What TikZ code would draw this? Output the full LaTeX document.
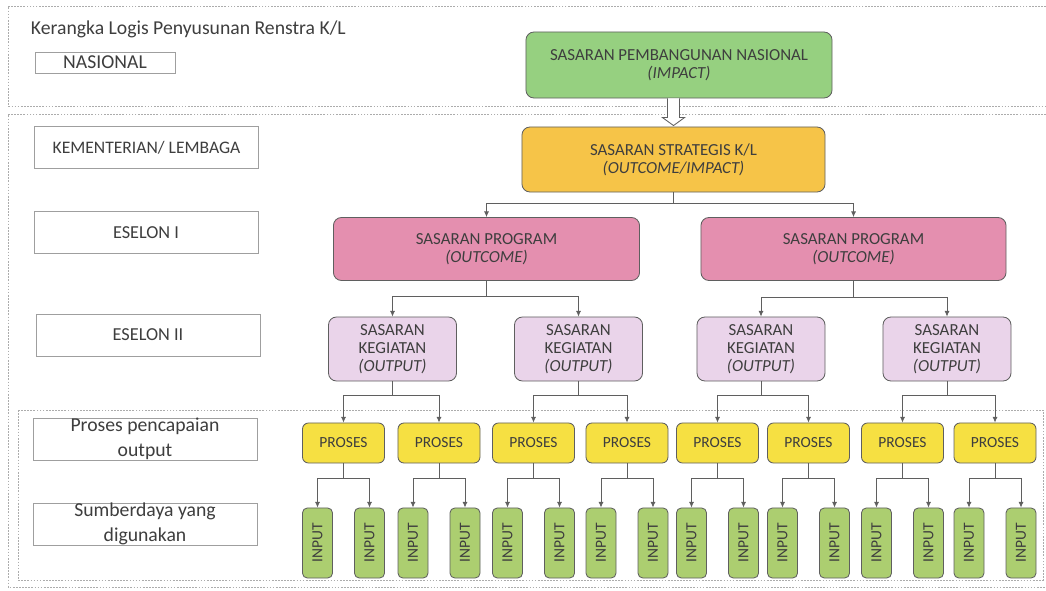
\documentclass[tikz,border=0pt]{standalone}
\usepackage{fontspec,graphicx}
\setmainfont{Carlito}
\usetikzlibrary{arrows.meta,calc,positioning}
\definecolor{natgreen}{RGB}{150,208,128}
\definecolor{klgold}{RGB}{246,196,72}
\definecolor{progpink}{RGB}{228,143,175}
\definecolor{kegviolet}{RGB}{234,212,234}
\definecolor{prosyellow}{RGB}{246,224,66}
\definecolor{inpgreen}{RGB}{172,206,112}
\definecolor{edge}{RGB}{95,95,95}
\definecolor{ink}{RGB}{62,62,62}

\begin{document}
\begin{tikzpicture}[x=0.025cm,y=-0.025cm,>={Latex[length=4pt,width=3.6pt]},
  region/.style={draw=gray!65,dash pattern=on 1.2pt off 1pt,line width=0.5pt},
  lvl/.style={draw=gray!75,fill=white,text=ink,minimum width=5.6cm,minimum height=1.05cm,inner sep=0pt,align=center},
  box/.style={draw=edge,line width=0.6pt,rounded corners=0.2cm,text=ink,align=center,inner sep=0pt,font=\fontsize{12}{12.8}\selectfont},
  prosbox/.style={box,fill=prosyellow,rounded corners=0.15cm,minimum width=2.05cm,minimum height=1cm,font=\fontsize{11}{12}\selectfont},
  inbox/.style={box,fill=inpgreen,rounded corners=0.12cm,minimum width=0.75cm,minimum height=1.75cm,font=\fontsize{11}{12}\selectfont},
  conn/.style={->,draw=edge,line width=0.6pt}]
\useasboundingbox (0,0) rectangle (1046,591);

% dotted areas
\draw[region] (1046,6) -- (8,6) -- (8,106) -- (1046,106);
\draw[region] (1046,114) -- (8,114) -- (8,587) -- (1046,587);
\draw[region] (18,410) rectangle (1043,580);

% levels on the left
\node[anchor=west,text=ink,font=\fontsize{14}{16}\selectfont] (title) at (26,29) {Kerangka Logis Penyusunan Renstra K/L};
\node[lvl,minimum width=3.5cm,minimum height=0.525cm,font=\fontsize{14}{16}\selectfont] (lnas) at (105,62.5) {NASIONAL};
\node[lvl,font=\fontsize{12.5}{15}\selectfont] (lkl) at (146.5,147.5) {KEMENTERIAN/ LEMBAGA};
\node[lvl,font=\fontsize{13}{15}\selectfont] (les1) at (146,232.5) {ESELON I};
\node[lvl,font=\fontsize{13}{15}\selectfont] (les2) at (148,335) {ESELON II};
\node[lvl,font=\fontsize{14}{17.7}\selectfont] (lpro) at (145,439) {Proses pencapaian\\output};
\node[lvl,font=\fontsize{14}{17.7}\selectfont] (lsum) at (145,524) {Sumberdaya yang\\digunakan};

% targets
\node[box,fill=natgreen,minimum width=7.65cm,minimum height=1.65cm] (nat) at (679,65) {SASARAN PEMBANGUNAN NASIONAL\\\textit{(IMPACT)}};
\node[box,fill=klgold,minimum width=7.575cm,minimum height=1.625cm] (kl) at (673.5,159.5) {SASARAN STRATEGIS K/L\\\textit{(OUTCOME/IMPACT)}};
\node[box,fill=progpink,minimum width=7.65cm,minimum height=1.575cm] (prog1) at (486.5,249) {SASARAN PROGRAM\\\textit{(OUTCOME)}};
\node[box,fill=progpink,minimum width=7.625cm,minimum height=1.575cm] (prog2) at (853.5,249) {SASARAN PROGRAM\\\textit{(OUTCOME)}};
\node[box,fill=kegviolet,minimum width=3.2cm,minimum height=1.6cm] (keg1) at (392.5,349) {SASARAN\\KEGIATAN\\\textit{(OUTPUT)}};
\node[box,fill=kegviolet,minimum width=3.2cm,minimum height=1.6cm] (keg2) at (578.5,349) {SASARAN\\KEGIATAN\\\textit{(OUTPUT)}};
\node[box,fill=kegviolet,minimum width=3.2cm,minimum height=1.6cm] (keg3) at (761,349) {SASARAN\\KEGIATAN\\\textit{(OUTPUT)}};
\node[box,fill=kegviolet,minimum width=3.2cm,minimum height=1.6cm] (keg4) at (947,349) {SASARAN\\KEGIATAN\\\textit{(OUTPUT)}};

% hollow arrow national -> K/L
\draw[edge,line width=0.6pt,fill=white] ($(kl.north |- nat.south)+(-6,0)$) -- ($(kl.north)+(-6,-9)$) -- ($(kl.north)+(-11,-9)$)
  -- ($(kl.north)+(0,-1)$) -- ($(kl.north)+(11,-9)$) -- ($(kl.north)+(6,-9)$) -- ($(kl.north |- nat.south)+(6,0)$);

\draw[conn] (kl.south) -- ++(0,11) -| (prog1.north);
\draw[conn] (kl.south) -- ++(0,11) -| (prog2.north);
\draw[conn] (prog1.south) -- ++(0,15) -| (keg1.north);
\draw[conn] (prog1.south) -- ++(0,15) -| (keg2.north);
\draw[conn] (prog2.south) -- ++(0,16) -| (keg3.north);
\draw[conn] (prog2.south) -- ++(0,16) -| (keg4.north);

% processes and inputs
\foreach \x [count=\p] in {343.5,439,533.5,627,717.5,808.5,902.5,995} {
  \node[prosbox] (pr\p) at (\x,443) {PROSES};
  \node[inbox] (ina\p) at (\x-26,543) {\rotatebox{90}{INPUT}};
  \node[inbox] (inb\p) at (\x+26,543) {\rotatebox{90}{INPUT}};
  \draw[conn] (pr\p.south) -- ++(0,15) -| (ina\p.north);
  \draw[conn] (pr\p.south) -- ++(0,15) -| (inb\p.north);
}
\foreach \p/\k in {1/1,2/1,3/2,4/2,5/3,6/3,7/4,8/4}
  \draw[conn] (keg\k.south) -- ++(0,14) -| (pr\p.north);
\end{tikzpicture}
\end{document}
